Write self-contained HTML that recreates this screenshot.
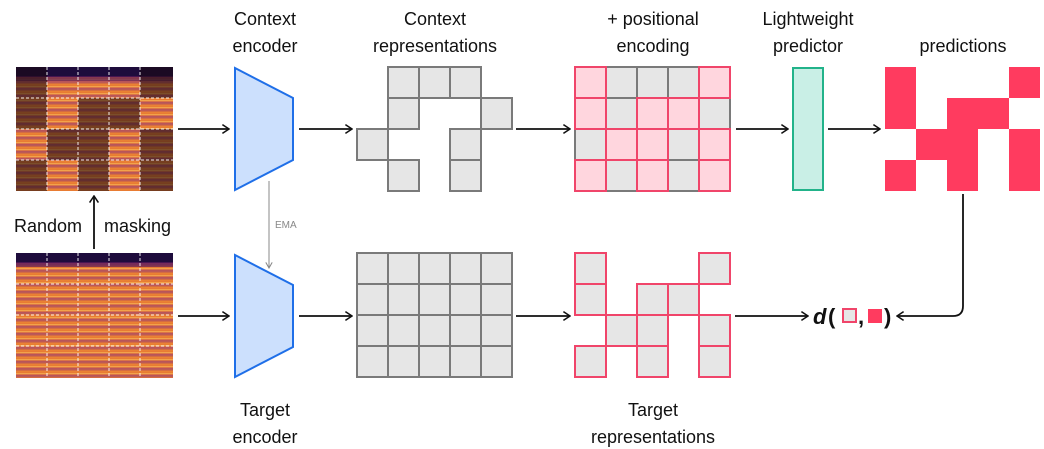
<!DOCTYPE html>
<html><head><meta charset="utf-8"><style>
body{margin:0;background:#fff}
svg{display:block}
text{font-family:"Liberation Sans",sans-serif;font-size:18px;fill:#111}
</style></head><body>
<svg width="1044" height="449" viewBox="0 0 1044 449" xmlns="http://www.w3.org/2000/svg">
<defs>
<linearGradient id="sg" x1="0" y1="0" x2="0" y2="1">
<stop offset="0" stop-color="#f39a3a"/>
<stop offset="0.35" stop-color="#e8763a"/>
<stop offset="0.55" stop-color="#b84a70"/>
<stop offset="0.75" stop-color="#f0a040"/>
<stop offset="1" stop-color="#a93e6a"/>
</linearGradient>
<pattern id="sp" x="0" y="0" width="157" height="7" patternUnits="userSpaceOnUse">
<rect width="157" height="7" fill="url(#sg)"/>
<rect y="0" width="157" height="7" fill="#e4782f" opacity="0.6"/>
<rect y="4" width="157" height="2" fill="#9a3a6e" opacity="0.55"/>
<rect y="2" width="157" height="1.2" fill="#ffd060" opacity="0.5"/>
</pattern>
<marker id="ah" viewBox="0 0 10 10" refX="9" refY="5" markerWidth="11" markerHeight="11" markerUnits="userSpaceOnUse" orient="auto"><path d="M3,1 L9,5 L3,9" fill="none" stroke="#111" stroke-width="1.4"/></marker>
<marker id="ahg" viewBox="0 0 10 10" refX="9" refY="5" markerWidth="8" markerHeight="8" markerUnits="userSpaceOnUse" orient="auto"><path d="M2,1 L9,5 L2,9" fill="none" stroke="#888" stroke-width="1.3"/></marker>
</defs>

<text x="265" y="25" text-anchor="middle">Context</text>
<text x="265" y="52" text-anchor="middle">encoder</text>
<text x="435" y="25" text-anchor="middle">Context</text>
<text x="435" y="52" text-anchor="middle">representations</text>
<text x="653" y="25" text-anchor="middle">+ positional</text>
<text x="653" y="52" text-anchor="middle">encoding</text>
<text x="808" y="25" text-anchor="middle">Lightweight</text>
<text x="808" y="52" text-anchor="middle">predictor</text>
<text x="963" y="52" text-anchor="middle">predictions</text>
<text x="265" y="416" text-anchor="middle">Target</text>
<text x="265" y="443" text-anchor="middle">encoder</text>
<text x="653" y="416" text-anchor="middle">Target</text>
<text x="653" y="443" text-anchor="middle">representations</text>
<text x="14" y="232">Random</text>
<text x="104" y="232">masking</text>

<g>
<rect x="16" y="67" width="157" height="124" fill="url(#sp)"/>
<rect x="16" y="67" width="157" height="10" fill="#1e0c3c"/>
<rect x="16" y="76" width="157" height="5" fill="#5a1a5a" opacity="0.7"/>
<g fill="#1a0a10" opacity="0.55">
<rect x="16" y="67" width="31" height="31"/><rect x="140" y="67" width="33" height="31"/>
<rect x="16" y="98" width="31" height="31"/><rect x="78" y="98" width="62" height="31"/>
<rect x="47" y="129" width="62" height="31"/><rect x="140" y="129" width="33" height="31"/>
<rect x="16" y="160" width="31" height="31"/><rect x="78" y="160" width="31" height="31"/><rect x="140" y="160" width="33" height="31"/>
</g>
<g stroke="#fff" stroke-width="1" stroke-dasharray="3,2" opacity="0.9">
<line x1="47" y1="67" x2="47" y2="191"/><line x1="78" y1="67" x2="78" y2="191"/><line x1="109" y1="67" x2="109" y2="191"/><line x1="140" y1="67" x2="140" y2="191"/>
<line x1="16" y1="98" x2="173" y2="98"/><line x1="16" y1="129" x2="173" y2="129"/><line x1="16" y1="160" x2="173" y2="160"/>
</g>
</g>
<g>
<rect x="16" y="253" width="157" height="125" fill="url(#sp)"/>
<rect x="16" y="253" width="157" height="10" fill="#1e0c3c"/>
<rect x="16" y="262" width="157" height="5" fill="#5a1a5a" opacity="0.7"/>
<g stroke="#fff" stroke-width="1" stroke-dasharray="3,2" opacity="0.9">
<line x1="47" y1="253" x2="47" y2="378"/><line x1="78" y1="253" x2="78" y2="378"/><line x1="109" y1="253" x2="109" y2="378"/><line x1="140" y1="253" x2="140" y2="378"/>
<line x1="16" y1="284" x2="173" y2="284"/><line x1="16" y1="315" x2="173" y2="315"/><line x1="16" y1="346" x2="173" y2="346"/>
</g>
</g>

<line x1="94" y1="249" x2="94" y2="196" stroke="#111" stroke-width="1.8" marker-end="url(#ah)"/>

<polygon points="235,68 293,98 293,160 235,190" fill="#cce0fd" stroke="#1f6fe8" stroke-width="2"/>
<polygon points="235,255 293,285 293,347 235,377" fill="#cce0fd" stroke="#1f6fe8" stroke-width="2"/>
<line x1="269" y1="181" x2="269" y2="268" stroke="#888" stroke-width="1" marker-end="url(#ahg)"/>
<text x="275" y="228" style="font-size:10px;fill:#888">EMA</text>

<g stroke="#111" stroke-width="1.8" fill="none" marker-end="url(#ah)">
<line x1="178" y1="129" x2="229" y2="129"/>
<line x1="299" y1="129" x2="352" y2="129"/>
<line x1="516" y1="129" x2="570" y2="129"/>
<line x1="736" y1="129" x2="788" y2="129"/>
<line x1="828" y1="129" x2="880" y2="129"/>
<line x1="178" y1="316" x2="229" y2="316"/>
<line x1="299" y1="316" x2="352" y2="316"/>
<line x1="516" y1="316" x2="570" y2="316"/>
<line x1="735" y1="316" x2="808" y2="316"/>
<path d="M963,194 L963,306 Q963,316 953,316 L897,316"/>
</g>

<g fill="#e6e6e6" stroke="#7a7a7a" stroke-width="2">
<rect x="388" y="67" width="31" height="31"/><rect x="419" y="67" width="31" height="31"/><rect x="450" y="67" width="31" height="31"/>
<rect x="388" y="98" width="31" height="31"/><rect x="481" y="98" width="31" height="31"/>
<rect x="357" y="129" width="31" height="31"/><rect x="450" y="129" width="31" height="31"/>
<rect x="388" y="160" width="31" height="31"/><rect x="450" y="160" width="31" height="31"/>
</g>

<g fill="#e6e6e6" stroke="#7a7a7a" stroke-width="2">
<rect x="357" y="253" width="155" height="124"/>
<path d="M388,253V377M419,253V377M450,253V377M481,253V377M357,284H512M357,315H512M357,346H512" fill="none"/>
</g>

<g fill="#e6e6e6" stroke="#7a7a7a" stroke-width="2">
<rect x="575" y="67" width="155" height="124"/>
<path d="M606,67V191M637,67V191M668,67V191M699,67V191M575,98H730M575,129H730M575,160H730" fill="none"/>
</g>
<g fill="#ffd6de" stroke="#f0456a" stroke-width="2">
<rect x="575" y="67" width="31" height="31"/><rect x="699" y="67" width="31" height="31"/>
<rect x="575" y="98" width="31" height="31"/><rect x="637" y="98" width="31" height="31"/><rect x="668" y="98" width="31" height="31"/>
<rect x="606" y="129" width="31" height="31"/><rect x="637" y="129" width="31" height="31"/><rect x="699" y="129" width="31" height="31"/>
<rect x="575" y="160" width="31" height="31"/><rect x="637" y="160" width="31" height="31"/><rect x="699" y="160" width="31" height="31"/>
</g>

<g fill="#e6e6e6" stroke="#f0456a" stroke-width="2">
<rect x="575" y="253" width="31" height="31"/><rect x="699" y="253" width="31" height="31"/>
<rect x="575" y="284" width="31" height="31"/><rect x="637" y="284" width="31" height="31"/><rect x="668" y="284" width="31" height="31"/>
<rect x="606" y="315" width="31" height="31"/><rect x="637" y="315" width="31" height="31"/><rect x="699" y="315" width="31" height="31"/>
<rect x="575" y="346" width="31" height="31"/><rect x="637" y="346" width="31" height="31"/><rect x="699" y="346" width="31" height="31"/>
</g>

<rect x="793" y="68" width="30" height="122" fill="#c9efe6" stroke="#22b38a" stroke-width="2"/>

<g fill="#ff3b5f">
<rect x="885" y="67" width="31" height="31"/><rect x="1009" y="67" width="31" height="31"/>
<rect x="885" y="98" width="31" height="31"/><rect x="947" y="98" width="62" height="31"/>
<rect x="916" y="129" width="62" height="31"/><rect x="1009" y="129" width="31" height="31"/>
<rect x="885" y="160" width="31" height="31"/><rect x="947" y="160" width="31" height="31"/><rect x="1009" y="160" width="31" height="31"/>
</g>

<text x="813" y="324" style="font-size:22px;font-weight:bold;font-style:italic">d</text>
<text x="828" y="324" style="font-size:22px;font-weight:bold">(</text>
<rect x="843" y="309" width="13" height="13" fill="#e6e6e6" stroke="#f0456a" stroke-width="2"/>
<text x="858" y="324" style="font-size:22px;font-weight:bold">,</text>
<rect x="868" y="309" width="14" height="14" fill="#ff3b5f"/>
<text x="884" y="324" style="font-size:22px;font-weight:bold">)</text>
</svg>
</body></html>
